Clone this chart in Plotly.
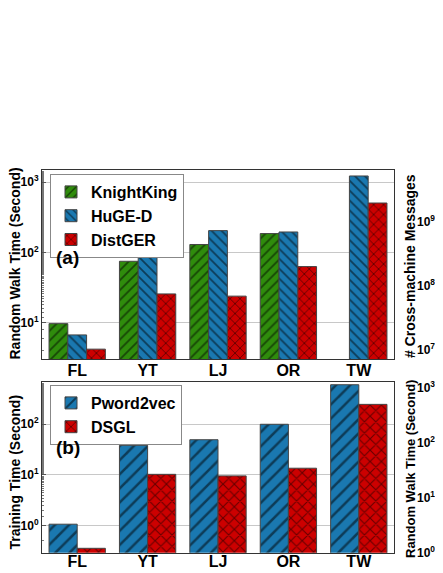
import math
import plotly.graph_objects as go

categories = ["FL", "YT", "LJ", "OR", "TW"]

# Panel (a): random walk time (s)
knightking = [9.7, 75, 130, 186, None]
huge_d = [6.7, 95, 205, 196, 1230]
distger = [4.2, 25.7, 23.9, 63, 507]

# Panel (b): training time (s)
pword2vec = [1.07, 38.5, 49.6, 100, 603]
dsgl = [0.358, 10.3, 9.6, 13.6, 247]

# tick labels
left_top_ticks = [10, 100, 1000]
right_top_ticks = [1e7, 1e8, 1e9]
left_bot_ticks = [1, 10, 100]
right_bot_ticks = [1, 10, 100, 1000]

OFF = 8  # body margin of the html page
W, H = 443 - OFF, 573 - OFF
GREEN = "#2f8c0c"
BLUE = "#1a78b0"
RED = "#cc0000"
FONT = "Liberation Sans"
NARROW = "Liberation Sans Narrow, Liberation Sans, Arial"

def px(x):
    return (x - OFF) / W

def py(y):
    return 1 - (y - OFF) / H

def sup(vals):
    return ["10<sup>%d</sup>" % round(math.log10(v)) for v in vals]

fig = go.Figure()

def bar(name, vals, color, shape, size, xa, ya, legend):
    fig.add_trace(go.Bar(
        x=categories, y=vals, name=name, xaxis=xa, yaxis=ya, legend=legend,
        marker=dict(color=color, line=dict(color="#444", width=1),
                    pattern=dict(shape=shape, fgcolor="black", bgcolor=color,
                                 size=size, solidity=0.25, fillmode="overlay")),
    ))

bar("KnightKing", knightking, GREEN, "/", 7, "x", "y", "legend")
bar("HuGE-D", huge_d, BLUE, "\\", 7, "x", "y", "legend")
bar("DistGER", distger, RED, "x", 7, "x", "y", "legend")
bar("Pword2vec", pword2vec, BLUE, "/", 10, "x2", "y3", "legend2")
bar("DSGL", dsgl, RED, "x", 8, "x2", "y3", "legend2")

# empty traces so the secondary (right) axes are drawn
for ya in ["y2", "y4"]:
    fig.add_trace(go.Scatter(x=[None], y=[None], xaxis="x" if ya == "y2" else "x2",
                             yaxis=ya, showlegend=False, hoverinfo="skip", mode="markers"))

xdom = [px(42), px(394)]
top_dom = [py(359), py(170)]
bot_dom = [py(552.7), py(382.3)]

tickfont_y = dict(family=NARROW, size=12, weight="bold", color="black")

xcommon = dict(domain=xdom, showline=True, linecolor="#333", linewidth=1, mirror=True,
               ticks="", tickfont=dict(family=FONT, size=16, weight="bold", color="black"),
               range=[-0.5, 4.5], automargin=False)
ycommon = dict(type="log", showline=True, linecolor="#333", linewidth=1, mirror=True,
               ticks="inside", ticklen=4, tickcolor="#555",
               tickfont=tickfont_y,
               gridcolor="#c8c8c8", gridwidth=1, automargin=False,
               minor=dict(ticks="inside", ticklen=2, tickcolor="#777", showgrid=False))
yright = dict(type="log", showline=False, ticks="", showgrid=False, side="right",
              tickfont=tickfont_y,
              ticklabelstandoff=22, automargin=False, zeroline=False)

fig.update_layout(
    width=W, height=H,
    margin=dict(l=0, r=0, t=0, b=0),
    paper_bgcolor="white", plot_bgcolor="white",
    barmode="group", bargap=0.2, bargroupgap=0,
    font=dict(family=FONT, color="black"),
    xaxis=dict(xcommon, anchor="y", ticklabelstandoff=-3),
    yaxis=dict(ycommon, domain=top_dom, anchor="x", range=[0.483, 3.175],
               tickvals=left_top_ticks, ticktext=sup(left_top_ticks)),
    yaxis2=dict(yright, overlaying="y", anchor="x", range=[6.86, 9.804],
                tickvals=right_top_ticks, ticktext=sup(right_top_ticks)),
    xaxis2=dict(xcommon, anchor="y3", ticklabelstandoff=-6),
    yaxis3=dict(ycommon, domain=bot_dom, anchor="x2", range=[-0.533, 2.828],
                tickvals=left_bot_ticks, ticktext=sup(left_bot_ticks)),
    yaxis4=dict(yright, overlaying="y3", anchor="x2", range=[-0.005, 3.098],
                tickvals=right_bot_ticks, ticktext=sup(right_bot_ticks)),
    legend=dict(x=px(50), y=py(174), xanchor="left", yanchor="top",
                bgcolor="white", bordercolor="#888", borderwidth=1,
                font=dict(family=FONT, size=16, weight="bold"),
                itemwidth=30, tracegroupgap=0),
    legend2=dict(x=px(50), y=py(385), xanchor="left", yanchor="top",
                 bgcolor="white", bordercolor="#888", borderwidth=1,
                 font=dict(family=FONT, size=16, weight="bold"),
                 itemwidth=30, tracegroupgap=0),
)

ann = [
    dict(text="Random Walk Time (Second)", x=px(14.5), y=py(264), textangle=-90, size=14),
    dict(text="# Cross-machine Messages", x=px(410), y=py(266), textangle=-90, size=14),
    dict(text="Training Time (Second)", x=px(14.5), y=py(472), textangle=-90, size=14),
    dict(text="Random Walk Time (Second)", x=px(410), y=py(469), textangle=-90, size=13),
    dict(text="(a)", x=px(67), y=py(257), textangle=0, size=19),
    dict(text="(b)", x=px(68), y=py(447), textangle=0, size=19),
]
for a in ann:
    fig.add_annotation(text=a["text"], x=a["x"], y=a["y"], xref="paper", yref="paper",
                       showarrow=False, textangle=a["textangle"], xanchor="center", yanchor="middle",
                       font=dict(family=FONT, size=a["size"], weight="bold", color="black"))

fig.write_html("out.html")
